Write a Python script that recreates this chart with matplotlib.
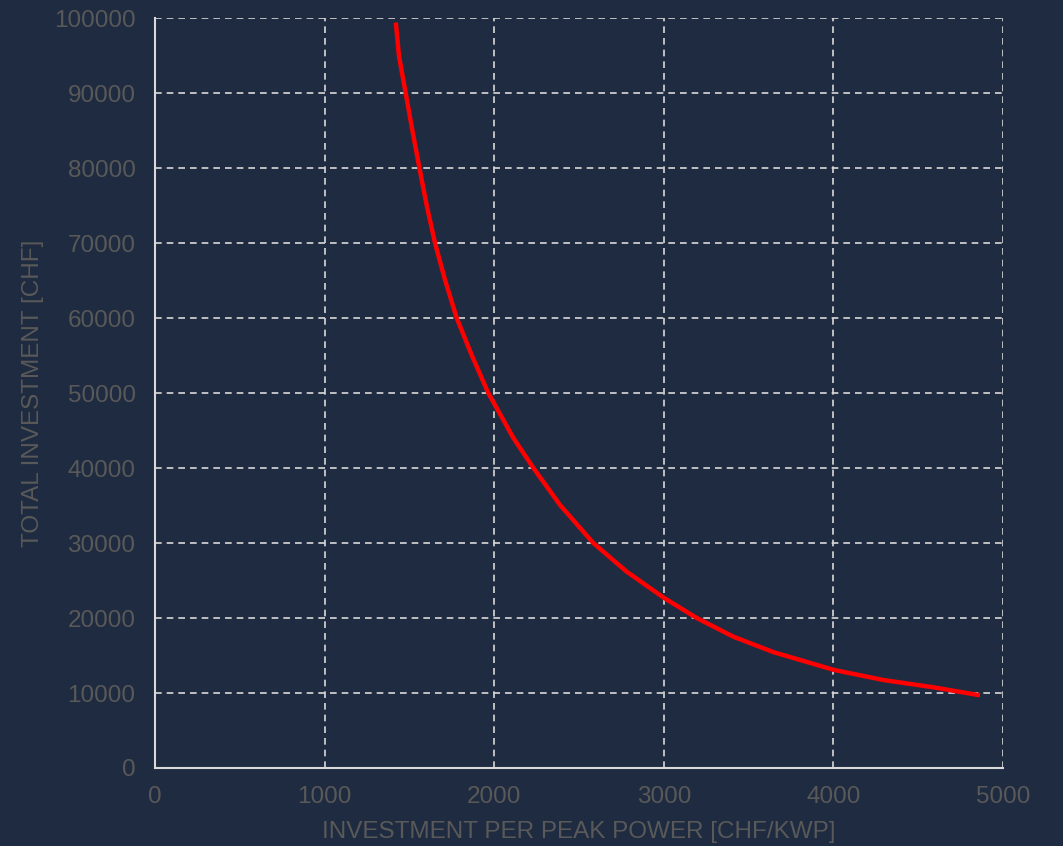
import matplotlib.pyplot as plt

# values
price_per_kwp = [1420, 1439, 1478, 1517, 1559, 1602, 1651, 1710, 1779, 1867, 1965, 2054, 2113,
                 2231, 2388, 2584, 2781, 3000, 3194, 3410, 3646, 4004, 4295, 4589, 4864]
total_invest = [99400, 94840, 90000, 85070, 80000, 75020, 70000, 65070, 60000, 55070, 50000, 46400, 44000,
                40000, 35070, 30000, 26180, 22700, 20000, 17510, 15450, 13070, 11730, 10760, 9690]

x_ticks = [0, 1000, 2000, 3000, 4000, 5000]
y_ticks = [0, 10000, 20000, 30000, 40000, 50000, 60000, 70000, 80000, 90000, 100000]

bg = '#1f2b40'
grey = '#595959'
light = '#d9d9d9'

plt.rcParams['font.family'] = ['Liberation Sans', 'DejaVu Sans']

fig = plt.figure(figsize=(10.63, 8.46), dpi=100, facecolor=bg)
ax = fig.add_axes([0.1458, 0.0922, 0.7978, 0.8865])
ax.set_facecolor(bg)

ax.plot(price_per_kwp, total_invest, color='#ff0000', linewidth=3.2,
        solid_capstyle='butt', solid_joinstyle='round')

ax.set_xlim(0, 5000)
ax.set_ylim(0, 100000)
ax.set_xticks(x_ticks)
ax.set_yticks(y_ticks)
ax.grid(True, color=light, linestyle=(0, (4, 3)), linewidth=1.2)
ax.set_axisbelow(True)

for s in ['top', 'right']:
    ax.spines[s].set_visible(False)
for s in ['left', 'bottom']:
    ax.spines[s].set_color(light)
    ax.spines[s].set_linewidth(1.5)

ax.tick_params(axis='both', length=0, labelcolor=grey, labelsize=17.5)
ax.tick_params(axis='y', pad=14)
ax.tick_params(axis='x', pad=13)

ax.set_xlabel('INVESTMENT PER PEAK POWER [CHF/KWP]', color=grey, fontsize=17.5)
ax.set_ylabel('TOTAL INVESTMENT [CHF]', color=grey, fontsize=17.5)
ax.xaxis.set_label_coords(0.5, -0.0707)
ax.yaxis.set_label_coords(-0.131, 0.5)

plt.savefig('out.png', dpi=100, facecolor=bg)
